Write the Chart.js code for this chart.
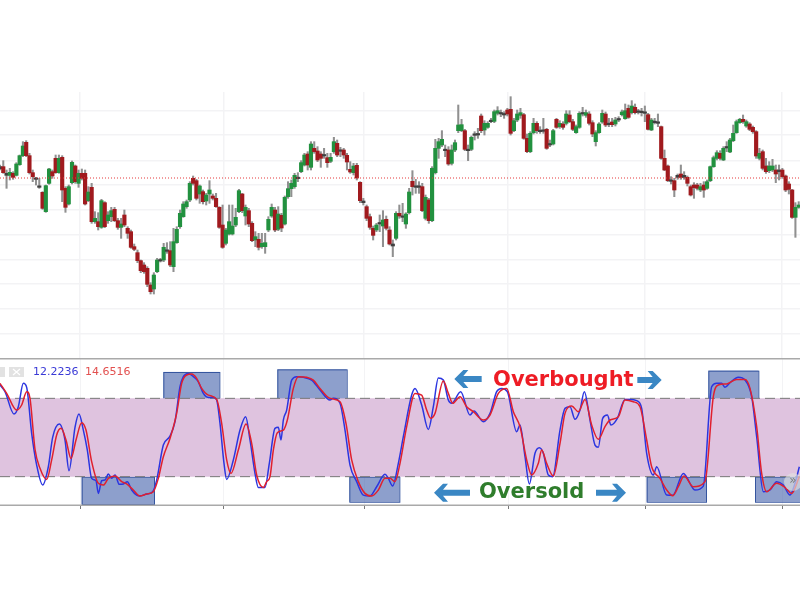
<!DOCTYPE html>
<html>
<head>
<meta charset="utf-8">
<title>Stochastic overbought / oversold</title>
<script src="https://cdn.jsdelivr.net/npm/chart.js@4/dist/chart.umd.js"></script>
<style>
    html, body { margin: 0; padding: 0; background: #fff; }
    canvas { position: absolute; left: 0; }
    #priceChart { top: 92px; }
    #stochChart { top: 358px; }
</style>
</head>
<body>
<canvas id="priceChart" width="800" height="266"></canvas>
<canvas id="stochChart" width="800" height="155"></canvas>
<script>
// ------------------------------------------------------------
// Candles (price units are arbitrary, no axis labels in the picture)
// ------------------------------------------------------------
const opens = [
    770,770,744,744,750,744,776,803,843,803, 752,735,708,693,635,720,755,795,752,798,
    705,658,722,772,720,750,750,668,708,605, 605,588,662,608,620,642,608,588,625,585,
    575,530,512,488,475,465,415,403,455,490, 490,520,518,470,542,590,620,650,670,735,
    728,688,695,667,688,682,675,648,595,540, 568,568,595,635,688,622,638,600,550,552,
    530,530,580,622,640,582,624,598,680,704, 710,738,755,775,808,768,825,817,808,805,
    797,786,815,840,820,820,804,762,752,774, 723,667,650,620,585,580,602,592,612,580,
    538,555,630,622,598,632,726,712,712,710, 615,670,608,752,825,835,822,820,780,820,
    878,878,878,822,822,868,868,922,880,888, 908,906,930,932,928,940,942,878,910,924,
    926,855,815,872,900,878,880,882,838,838, 912,890,898,900,925,905,872,888,932,924,
    928,902,845,872,904,928,900,904,898,913, 926,914,945,932,948,936,935,932,926,880,
    906,904,890,795,772,730,728,744,748,744, 738,710,715,715,700,715,705,728,770,795,
    810,790,830,814,848,872,902,912,892,898, 888,875,795,815,772,758,760,760,760,760,
    742,718,700,618,648
];
const closes = [
    764,752,750,753,738,778,803,832,803,752, 740,732,712,645,713,763,742,752,795,700,
    648,710,783,725,750,735,658,694,605,615, 590,668,590,625,638,608,588,598,595,570,
    528,522,488,458,455,417,395,445,490,487, 528,516,475,545,582,630,658,665,720,720,
    675,712,665,685,700,675,650,588,528,580, 605,592,618,698,638,648,598,548,560,528,
    540,542,612,648,580,628,586,678,704,720, 744,734,782,805,775,838,815,790,795,802,
    782,798,845,805,816,805,784,754,772,736, 668,662,615,588,564,595,598,610,585,538,
    532,630,622,618,628,694,710,708,708,638, 678,608,765,825,845,852,818,778,820,842,
    895,896,822,818,858,864,865,878,900,900, 905,935,938,928,925,928,870,908,928,932,
    855,815,870,900,878,875,876,825,835,878, 888,900,888,928,905,882,890,930,928,932,
    900,868,872,898,930,895,896,896,910,910, 934,938,918,952,932,933,932,930,882,910,
    902,900,795,760,728,726,700,738,738,738, 720,685,707,705,710,700,725,770,797,812,
    795,825,826,850,870,905,912,905,905,882, 875,802,810,765,755,772,772,748,755,740,
    700,702,618,648,655
];
const highs = [
    775,788,760,765,755,782,805,845,848,810, 760,738,735,695,715,765,760,805,805,803,
    710,715,787,775,760,763,760,710,720,635, 632,672,665,635,648,648,615,615,640,590,
    580,538,520,490,482,470,422,452,495,495, 540,542,545,585,590,640,665,670,725,742,
    732,715,700,690,728,688,690,650,655,585, 655,655,645,702,690,655,645,605,575,570,
    570,570,620,658,648,650,630,682,725,730, 750,752,788,810,815,845,845,830,815,825,
    810,810,858,850,828,825,810,785,780,780, 725,675,655,628,592,600,625,638,622,590,
    550,635,655,660,632,705,758,732,725,720, 685,675,770,852,855,878,835,830,835,850,
    955,912,882,835,862,875,885,928,908,905, 915,940,950,940,935,945,980,915,940,945,
    930,868,875,915,905,890,915,885,850,882, 915,908,905,938,938,912,895,935,948,940,
    935,908,878,902,940,934,915,915,918,920, 940,958,955,968,958,942,945,952,930,915,
    915,928,892,820,775,740,735,748,775,755, 742,715,722,720,720,725,730,772,802,818,
    818,830,845,855,895,910,915,925,910,902, 892,878,825,820,795,785,792,775,775,765,
    745,725,702,662,665
];
const lows = [
    760,750,705,730,732,742,774,800,800,748, 725,715,705,642,633,717,735,750,750,665,
    633,655,718,720,708,730,655,665,600,600, 580,585,587,600,605,605,582,555,590,555,
    525,518,482,452,450,410,388,388,452,484, 485,510,470,455,540,585,618,645,665,715,
    670,660,658,655,660,670,648,585,525,535, 565,565,590,632,632,595,590,545,530,520,
    525,510,575,618,575,578,575,595,675,680, 705,725,752,772,760,760,810,785,768,795,
    768,782,810,800,800,795,760,750,745,730, 662,655,608,582,550,575,575,530,580,535,
    500,550,615,605,585,628,685,690,690,635, 610,600,605,748,795,830,800,774,775,815,
    872,875,818,788,818,850,855,872,865,885, 902,902,925,920,915,922,865,875,905,915,
    852,812,812,868,870,870,870,822,830,835, 885,885,882,895,902,878,870,885,922,918,
    895,860,832,870,900,890,890,890,892,905, 922,912,915,928,928,928,922,905,880,878,
    898,890,792,758,725,718,680,732,732,732, 712,682,675,700,695,678,702,725,768,790,
    790,788,815,812,845,870,900,900,888,878, 870,795,790,760,750,752,755,722,730,735,
    695,688,615,558,645
];

const priceLevels = [938, 865, 788, 715, 640, 565, 492, 418, 345, 270];
const refLevel = [736];
const timeRange = [0, 2400];
const barStep = 9.82;
const timeMarks = [240, 670, 1092, 1524, 1935, 2346];

// ------------------------------------------------------------
// Stochastic oscillator, read at its turning points
// ------------------------------------------------------------
const kTimes = [
    0,15,42,55,70,80,95,110,128,145,158,178,195,207,225,237,250,262,275,288,295,305,315,325,335,345,358,370,382,395,
    410,420,440,458,470,490,510,525,540,550,565,580,595,610,625,640,650,660,672,680,700,720,737,750,765,775,795,808,
    825,835,843,850,860,875,890,910,935,960,990,1000,1020,1035,1050,1070,1090,1110,1130,1155,1165,1178,1195,1210,
    1235,1245,1265,1285,1300,1315,1330,1345,1355,1382,1410,1422,1450,1470,1490,1505,1522,1550,1560,1575,1588,1605,
    1618,1630,1645,1658,1680,1695,1710,1725,1740,1753,1770,1785,1795,1808,1822,1833,1852,1875,1890,1910,1925,1940,
    1960,1970,2000,2018,2050,2085,2110,2135,2150,2165,2175,2190,2215,2235,2255,2270,2290,2310,2330,2350,2370,2385,2398
];
const kValues = [
    90.2,85.1,68,73.6,91.5,88.4,53.2,28.9,13.6,27.6,50.1,60.3,48.1,24.6,57.8,68,55.7,40.4,18.7,16.9,7.2,16.9,17.4,22,18.7,21.3,14.1,14.4,16.2,9.8,
    5.9,5.2,6.7,8.5,17.4,44.2,51.1,62.1,88.9,96.6,99.1,96.6,92.7,83.8,80.7,80.7,78.7,60.8,30.2,17.9,32.8,55.7,65.9,48.1,22.5,11.8,11.8,30.2,
    57,57.8,48.1,63.4,71,94,96.6,96.1,94,86.4,78.7,80,76.2,55.7,28.9,16.2,5.9,5.2,12.3,21.8,18.7,12.8,30.2,50.6,
    82.5,87.6,74.9,56.2,73.6,95.6,94,78.7,76.2,85.1,67.2,70.3,62.1,68.5,85.1,87.6,85.1,54.5,59.6,35.3,14.4,37.9,
    42.2,37.9,21.3,20,55.7,72.3,73.6,63.9,71,85.1,63.4,44.2,42.5,64.7,67.2,59.6,64.7,79.2,79.2,78.2,72.3,37.9,
    21.3,27.6,5.9,5.7,22.5,9.8,12.8,88.9,91.5,91.5,88.4,92,96.1,94,81.3,50.6,8.5,9.8,16.2,13.6,5.9,14.9,27.6
];
const dTimes = [
    0,20,50,65,80,90,105,120,140,155,170,183,198,213,228,245,258,275,295,310,325,345,365,380,400,420,440,460,475,490,
    510,530,545,560,575,590,605,625,650,665,680,693,715,738,755,770,790,800,810,820,832,850,862,880,895,920,940,960,
    990,1020,1038,1055,1075,1095,1115,1135,1155,1170,1185,1200,1220,1245,1265,1280,1292,1305,1330,1345,1358,1380,
    1400,1420,1450,1470,1495,1520,1540,1560,1580,1595,1615,1625,1640,1660,1680,1695,1715,1735,1755,1775,1795,1815,
    1830,1855,1875,1900,1920,1940,1955,1980,2000,2018,2035,2052,2080,2115,2140,2155,2180,2210,2235,2250,2270,2285,
    2300,2330,2355,2375,2398
];
const dValues = [
    91.5,83.8,71,74.9,85.1,80,41,26.4,17.9,32.8,51.9,57,48.1,34,48.1,61.3,55.7,31.5,14.9,13.6,18.7,20.5,16.2,14.4,9.8,5.2,6.7,8.5,18.7,35.3,
    49.3,68.5,91.5,97.9,98.6,95.3,87.6,82.5,79.2,60.8,32.8,22.5,40.4,60.3,45.5,21.3,11.8,16.2,20,40.4,53.7,55.7,63.4,87.6,96.6,96.1,94,87.6,
    80,77.4,60.8,32.8,16.2,7.2,5.2,9.8,18.7,18.7,16.2,30.2,58.3,83.8,82.5,71,64.7,68.5,93.3,83.8,76.2,81.3,
    73.6,69.8,63.4,67.2,83.8,87.6,69.8,58.3,32.8,21.3,30.2,40.4,30.2,20.5,45.5,68.5,74.1,69.8,79.2,59.6,48.6,58.3,
    63.4,65.9,78.7,77.4,73.6,48.1,27.6,18.7,9.8,5.4,12.3,20.5,12.3,16.2,81.3,90.2,91,94.5,94.5,87.6,58.3,22.5,
    8.5,14.9,11.8,7.2,20
];

const stochRange = [-1.7, 110.9];
const overbought = 80;
const oversold = 20;
const readouts = ['12.2236', '14.6516'];
const zoneLabels = ['Overbought', 'Oversold'];

// Highlighted zones: [time from, time to, stoch top, stoch bottom]
const zoneBoxes = [
    [245, 462, 20, -1],
    [490, 658, 100.2, 80],
    [832, 1040, 102.2, 80],
    [1048, 1198, 20, 0.8],
    [1940, 2118, 20, 0.8],
    [2125, 2275, 101.2, 80],
    [2265, 2400, 20, 0.8],
];

// ------------------------------------------------------------
// Colours and helpers
// ------------------------------------------------------------
const GREEN = '#22913f';
const RED = '#a01a1e';
const DOJI = '#404040';
const GRID = '#f3f3f5';

function bodyColor(open, close) {
    if (Math.abs(open - close) <= 6) return DOJI;
    return close > open ? GREEN : RED;
}

function sparse(times, values) {
    return times.map((t, i) => ({ x: t, y: values[i] }));
}

function setTicks(values) {
    return scale => { scale.ticks = values.map(v => ({ value: v })); };
}

// Block arrow with swept barbs, pointing from x0 to x1 (pixels)
function arrow(ctx, x0, x1, y) {
    const dir = x1 > x0 ? 1 : -1;
    const neck = x1 - dir * 9;
    ctx.beginPath();
    ctx.moveTo(x0, y - 3);
    ctx.lineTo(neck, y - 3);
    ctx.lineTo(neck - dir * 5, y - 9);
    ctx.lineTo(neck, y - 9);
    ctx.lineTo(x1, y);
    ctx.lineTo(neck, y + 9);
    ctx.lineTo(neck - dir * 5, y + 9);
    ctx.lineTo(neck, y + 3);
    ctx.lineTo(x0, y + 3);
    ctx.closePath();
    ctx.fillStyle = '#3a87c4';
    ctx.fill();
}

// Shaded boxes go under the lines
const boxPlugin = {
    id: 'zoneBoxes',
    beforeDatasetsDraw(chart) {
        const { ctx, scales: { x, y } } = chart;
        ctx.save();
        ctx.fillStyle = 'rgba(52,84,164,0.56)';
        ctx.strokeStyle = '#35559f';
        ctx.lineWidth = 1;
        zoneBoxes.forEach(([t0, t1, top, bottom]) => {
            const px = x.getPixelForValue(t0);
            const py = y.getPixelForValue(top);
            const w = x.getPixelForValue(t1) - px;
            const h = y.getPixelForValue(bottom) - py;
            ctx.fillRect(px, py, w, h);
            ctx.strokeRect(px + 0.5, py + 0.5, w, h);
        });
        ctx.restore();
    }
};

// Panel frame, readouts, arrows, labels
const notesPlugin = {
    id: 'notes',
    afterDraw(chart) {
        const { ctx, chartArea, scales: { x, y } } = chart;
        ctx.save();

        ctx.fillStyle = '#a9a9a9';
        ctx.fillRect(0, chartArea.top, 800, 1.5);
        ctx.fillRect(0, chartArea.bottom - 0.5, 800, 1.5);

        // window buttons, top left of the panel
        ctx.fillStyle = '#e2e2e2';
        ctx.fillRect(0, 9, 5, 10);
        ctx.fillRect(9, 9, 15, 10);
        ctx.strokeStyle = '#fff';
        ctx.lineWidth = 1.2;
        ctx.beginPath();
        ctx.moveTo(13, 11); ctx.lineTo(20, 17);
        ctx.moveTo(20, 11); ctx.lineTo(13, 17);
        ctx.stroke();

        ctx.textBaseline = 'middle';
        ctx.textAlign = 'left';
        ctx.font = '11px "DejaVu Sans"';
        ctx.fillStyle = '#3a3ad6';
        ctx.fillText(readouts[0], 33, 14);
        ctx.fillStyle = '#e2504f';
        ctx.fillText(readouts[1], 85, 14);

        const obY = y.getPixelForValue(94);
        const osY = y.getPixelForValue(7.7);
        arrow(ctx, x.getPixelForValue(1445), x.getPixelForValue(1363), obY - 1);
        arrow(ctx, x.getPixelForValue(1912), x.getPixelForValue(1985), obY);
        arrow(ctx, x.getPixelForValue(1410), x.getPixelForValue(1302), osY);
        arrow(ctx, x.getPixelForValue(1788), x.getPixelForValue(1878), osY);

        ctx.textAlign = 'center';
        ctx.font = 'bold 21px "DejaVu Sans"';
        ctx.fillStyle = '#ee1c25';
        ctx.fillText(zoneLabels[0], x.getPixelForValue(1690), obY);
        ctx.fillStyle = '#2f7d2c';
        ctx.fillText(zoneLabels[1], x.getPixelForValue(1595), osY);

        // scroll badge at the right edge
        ctx.fillStyle = 'rgba(225,225,225,0.65)';
        ctx.beginPath();
        ctx.arc(793, 124, 9, 0, Math.PI * 2);
        ctx.fill();
        ctx.font = '12px "DejaVu Sans"';
        ctx.fillStyle = '#7d7d7d';
        ctx.fillText('\u00bb', 793, 123);

        ctx.restore();
    }
};

// ------------------------------------------------------------
// Price panel
// ------------------------------------------------------------
const candleTimes = opens.map((_, i) => i * barStep);

new Chart(document.getElementById('priceChart'), {
    type: 'bar',
    data: {
        datasets: [
            {
                label: 'Body',
                data: candleTimes.map((t, i) => ({ x: t, y: [opens[i], closes[i]] })),
                backgroundColor: opens.map((o, i) => bodyColor(o, closes[i])),
                barThickness: 3.5,
                minBarLength: 1.5,
                order: 1,
            },
            {
                label: 'Range',
                data: candleTimes.map((t, i) => ({ x: t, y: [lows[i], highs[i]] })),
                backgroundColor: '#909090',
                barThickness: 1.4,
                order: 2,
            },
            {
                type: 'line',
                label: 'Level',
                data: timeRange.map(t => ({ x: t, y: refLevel[0] })),
                borderColor: '#e5393a',
                borderWidth: 1,
                borderDash: [1, 2],
                pointRadius: 0,
                order: 0,
            },
        ],
    },
    options: {
        responsive: false,
        animation: false,
        grouped: false,
        layout: { padding: 0 },
        plugins: { legend: { display: false }, tooltip: { enabled: false } },
        scales: {
            x: {
                type: 'linear',
                min: timeRange[0],
                max: timeRange[1],
                offset: false,
                afterBuildTicks: setTicks(timeMarks),
                afterFit: s => { s.height = 0; },
                grid: { color: GRID, lineWidth: 1.5, offset: false, drawTicks: false },
                border: { display: false },
                ticks: { display: false },
            },
            y: {
                min: 196,
                max: 994,
                afterBuildTicks: setTicks(priceLevels),
                afterFit: s => { s.width = 0; },
                grid: { color: GRID, lineWidth: 1.5, drawTicks: false },
                border: { display: false },
                ticks: { display: false },
            },
        },
    },
});

// ------------------------------------------------------------
// Stochastic panel
// ------------------------------------------------------------
new Chart(document.getElementById('stochChart'), {
    type: 'line',
    data: {
        datasets: [
            {
                label: '%D',
                data: sparse(dTimes, dValues),
                borderColor: '#e0202e',
                borderWidth: 1.5,
                pointRadius: 0,
                cubicInterpolationMode: 'monotone',
                order: 1,
            },
            {
                label: '%K',
                data: sparse(kTimes, kValues),
                borderColor: '#2b35e0',
                borderWidth: 1.5,
                pointRadius: 0,
                cubicInterpolationMode: 'monotone',
                order: 2,
            },
            {
                label: 'Overbought',
                data: timeRange.map(t => ({ x: t, y: overbought })),
                borderColor: '#777777',
                borderWidth: 1,
                borderDash: [10, 5],
                pointRadius: 0,
                backgroundColor: '#dfc3df',
                fill: { value: oversold },
                order: 4,
            },
            {
                label: 'Oversold',
                data: timeRange.map(t => ({ x: t, y: oversold })),
                borderColor: '#777777',
                borderWidth: 1,
                borderDash: [10, 5],
                pointRadius: 0,
                order: 3,
            },
        ],
    },
    options: {
        responsive: false,
        animation: false,
        layout: { padding: 0 },
        plugins: { legend: { display: false }, tooltip: { enabled: false } },
        scales: {
            x: {
                type: 'linear',
                min: timeRange[0],
                max: timeRange[1],
                afterBuildTicks: setTicks(timeMarks),
                afterFit: s => { s.height = 8; },
                grid: { color: GRID, tickColor: '#777', tickLength: 4, lineWidth: 1 },
                border: { display: false },
                ticks: { callback: () => '', font: { size: 1 }, padding: 0, maxRotation: 0 },
            },
            y: {
                min: stochRange[0],
                max: stochRange[1],
                afterFit: s => { s.width = 0; },
                grid: { display: false },
                border: { display: false },
                ticks: { display: false },
            },
        },
    },
    plugins: [boxPlugin, notesPlugin],
});
</script>
</body>
</html>
